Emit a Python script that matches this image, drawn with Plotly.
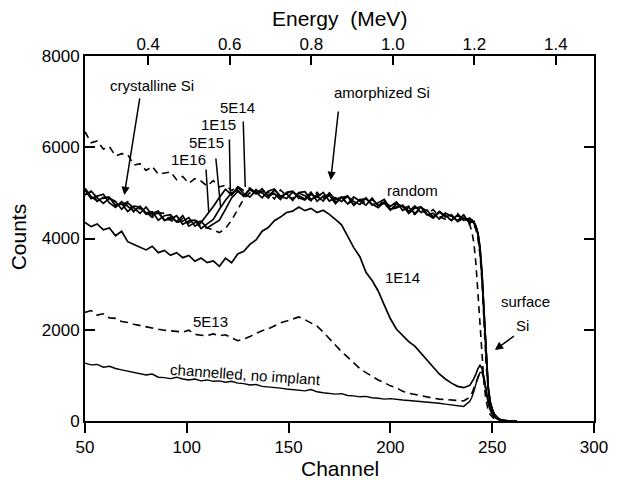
import plotly.graph_objects as go

# Detector channels: coarse spacing through the bulk, single channels across the surface edge
channel = list(range(50, 240, 3)) + list(range(240, 263))

# Energy calibration of the detector (MeV = offset + gain * channel)
energy_offset = -0.0047
energy_gain = 0.004994
energy_ticks = [0.4, 0.6, 0.8, 1.0, 1.2, 1.4]

count_ticks = [0, 2000, 4000, 6000, 8000]
channel_ticks = [50, 100, 150, 200, 250, 300]

random_counts = [
    6340, 6100, 6140, 5960, 6010, 5810, 5860, 5840, 5610, 5640,
    5490, 5580, 5410, 5430, 5460, 5290, 5360, 5210, 5310, 5260,
    5150, 5270, 5130, 5170, 5050, 5140, 5050, 5110, 4980, 5040,
    4945, 5045, 4875, 4985, 5045, 4875, 4945, 4835, 4965, 4890,
    4980, 4805, 4900, 4745, 4880, 4825, 4740, 4865, 4725, 4775,
    4630, 4770, 4655, 4710, 4545, 4640, 4525, 4635, 4485, 4420,
    4510, 4380, 4440, 4300,
    4150, 3900, 3450, 2800, 2050, 1350, 800, 450, 250, 140, 80, 45,
    25, 12, 6, 3, 0, 0, 0, 0, 0, 0, 0,
]

dose_1e16 = [
    5060, 4870, 4930, 4970, 4780, 4680, 4810, 4700, 4600, 4710,
    4560, 4590, 4400, 4500, 4520, 4360, 4380, 4460, 4270, 4350,
    4520, 4700, 4900, 5080, 4950, 5130, 4980, 4910, 5055, 5000,
    4885, 5065, 4925, 4985, 4835, 5005, 5025, 4855, 4925, 4820,
    5000, 4855, 4910, 4755, 4910, 4825, 4730, 4885, 4715, 4775,
    4620, 4770, 4695, 4590, 4715, 4570, 4625, 4455, 4595, 4470,
    4520, 4370, 4460, 4370,
    4400, 4330, 4270, 4080, 3750, 3150, 2250, 1300, 720, 400, 240, 140,
    85, 50, 28, 15, 8, 4, 2, 0, 0, 0, 0,
]

dose_5e15 = [
    4950, 5040, 4890, 4770, 4880, 4810, 4640, 4780, 4670, 4550,
    4690, 4510, 4560, 4410, 4420, 4500, 4310, 4390, 4400, 4220,
    4320, 4420, 4640, 4840, 5000, 5060, 4920, 5070, 4975, 5090,
    4925, 4985, 4855, 5015, 5035, 4895, 4845, 4965, 4905, 5010,
    4820, 4895, 4810, 4925, 4730, 4855, 4870, 4755, 4675, 4805,
    4710, 4800, 4615, 4680, 4545, 4690, 4535, 4445, 4575, 4510,
    4390, 4520, 4400, 4450,
    4360, 4380, 4240, 4120, 3820, 3250, 2350, 1400, 780, 430, 260, 155,
    92, 55, 30, 16, 8, 4, 2, 0, 0, 0, 0,
]

dose_1e15 = [
    5100, 4920, 4820, 4900, 4900, 4720, 4760, 4590, 4710, 4690,
    4530, 4550, 4600, 4390, 4470, 4370, 4500, 4270, 4350, 4380,
    4230, 4310, 4400, 4640, 4890, 5030, 4940, 5090, 5015, 4890,
    5035, 5085, 4925, 4875, 5015, 4935, 4865, 5015, 4815, 4930,
    4950, 4765, 4900, 4925, 4810, 4745, 4890, 4735, 4785, 4855,
    4640, 4670, 4735, 4550, 4665, 4690, 4515, 4555, 4425, 4560,
    4490, 4390, 4520, 4320,
    4410, 4350, 4280, 4110, 3780, 3220, 2300, 1330, 740, 410, 245, 148,
    88, 52, 29, 15, 8, 4, 2, 0, 0, 0, 0,
]

dose_5e14 = [
    4970, 5020, 4810, 4880, 4910, 4730, 4730, 4810, 4580, 4660,
    4580, 4460, 4570, 4550, 4400, 4340, 4440, 4340, 4440, 4260,
    4230, 4190, 4130, 4220, 4400, 4640, 4870, 5000, 5075, 4930,
    5015, 4865, 5065, 4935, 4875, 4995, 4935, 4825, 5015, 4860,
    4940, 4795, 4880, 4935, 4730, 4855, 4770, 4855, 4705, 4845,
    4630, 4700, 4735, 4600, 4525, 4680, 4605, 4475, 4605, 4470,
    4400, 4550, 4380, 4420,
    4340, 4300, 4200, 4000, 3650, 3050, 2150, 1250, 700, 390, 230, 135,
    80, 48, 26, 14, 7, 3, 1, 0, 0, 0, 0,
]

dose_1e14 = [
    4350, 4260, 4320, 4190, 4230, 4060, 4160, 3930, 3870, 3810,
    3750, 3830, 3690, 3740, 3630, 3690, 3580, 3630, 3500, 3570,
    3470, 3510, 3390, 3570, 3470, 3660, 3720, 3870, 3970, 4160,
    4240, 4390, 4470, 4570, 4600, 4690, 4610, 4660, 4570, 4620,
    4530, 4420, 4300, 4050, 3800, 3600, 3260, 3080, 2850, 2540,
    2240, 2010, 1880, 1740, 1640, 1490, 1320, 1180, 1030, 920,
    830, 760, 730, 780,
    850, 930, 1030, 1150, 1220, 1150, 950, 680, 420, 260, 160, 100,
    60, 35, 20, 10, 5, 2, 0, 0, 0, 0, 0,
]

dose_5e13 = [
    2380, 2420, 2320, 2350, 2260, 2250, 2180, 2160, 2120, 2090,
    2070, 2040, 2010, 1990, 1980, 1960, 1950, 1990, 1900, 1880,
    1870, 1910, 1870, 1890, 1820, 1760, 1800, 1850, 1920, 1980,
    2020, 2090, 2150, 2190, 2240, 2280, 2220, 2150, 2080, 1950,
    1800, 1660, 1520, 1400, 1280, 1150, 1060, 980, 900, 840,
    770, 730, 650, 610, 580, 550, 520, 500, 480, 470,
    460, 450, 440, 520,
    600, 720, 850, 980, 1060, 1070, 920, 660, 420, 260, 160, 100,
    60, 35, 20, 10, 5, 2, 0, 0, 0, 0, 0,
]

channelled_virgin = [
    1270, 1230, 1240, 1180, 1200, 1150, 1120, 1090, 1070, 1040,
    1010, 1030, 960, 950, 930, 960, 920, 900, 920, 880,
    900, 870, 880, 850, 870, 830, 820, 790, 800, 760,
    750, 740, 720, 700, 690, 680, 660, 690, 640, 620,
    610, 590, 600, 560, 550, 530, 540, 510, 500, 480,
    490, 470, 460, 450, 440, 430, 420, 400, 390, 370,
    350, 330, 320, 430,
    520, 650, 820, 970, 1060, 1070, 900, 640, 410, 250, 150, 90,
    55, 30, 18, 10, 5, 2, 0, 0, 0, 0, 0,
]

FONT = "Liberation Sans, Arial, sans-serif"
INK = "black"

spectra = [
    ("random", random_counts, 1.6, "7px,5px"),
    ("1E16", dose_1e16, 1.7, "solid"),
    ("5E15", dose_5e15, 1.7, "solid"),
    ("1E15", dose_1e15, 1.7, "solid"),
    ("5E14", dose_5e14, 1.6, "7px,5px"),
    ("1E14", dose_1e14, 1.7, "solid"),
    ("5E13", dose_5e13, 1.6, "8px,5px"),
    ("channelled", channelled_virgin, 1.4, "solid"),
]

fig = go.Figure()
for name, counts, width, dash in spectra:
    fig.add_trace(go.Scatter(
        x=channel, y=counts, mode="lines", name=name,
        line=dict(color=INK, width=width, dash=dash),
        showlegend=False, hoverinfo="skip",
    ))

# Empty trace that carries the energy axis along the top
fig.add_trace(go.Scatter(x=[], y=[], xaxis="x2", showlegend=False))

e_lo = energy_offset + energy_gain * channel_ticks[0]
e_hi = energy_offset + energy_gain * channel_ticks[-1]

fig.update_layout(
    width=620, height=480,
    margin=dict(l=85, r=17, t=56, b=59),
    paper_bgcolor="white", plot_bgcolor="white",
    font=dict(family=FONT, size=16, color=INK),
    xaxis=dict(
        range=[channel_ticks[0], channel_ticks[-1]], tickvals=channel_ticks,
        ticks="outside", ticklen=10, tickwidth=2, tickcolor=INK,
        showline=True, linewidth=2, linecolor=INK, mirror=True,
        showgrid=False, zeroline=False,
        tickfont=dict(size=17),
    ),
    xaxis2=dict(
        overlaying="x", side="top", anchor="y",
        range=[e_lo, e_hi], tickvals=energy_ticks,
        ticktext=[f"{e:.1f}" for e in energy_ticks],
        ticks="inside", ticklen=9, tickwidth=2, tickcolor=INK,
        showline=True, linewidth=2, linecolor=INK,
        showgrid=False, zeroline=False,
        tickfont=dict(size=17), ticklabelstandoff=-3,
    ),
    yaxis=dict(
        range=[count_ticks[0], count_ticks[-1]], tickvals=count_ticks,
        ticks="inside", ticklen=10, tickwidth=2, tickcolor=INK,
        showline=True, linewidth=2, linecolor=INK, mirror="ticks",
        showgrid=False, zeroline=False,
        tickfont=dict(size=17),
    ),
)

label_font = dict(family=FONT, size=15, color=INK)
annotations = []


def text_label(txt, x, y, angle=0):
    annotations.append(dict(
        x=x, y=y, xref="x", yref="y", text=txt, showarrow=False,
        font=label_font, textangle=angle, xanchor="center", yanchor="middle",
    ))


def pointer(x_tail, y_tail, x_head, y_head, head):
    annotations.append(dict(
        x=x_head, y=y_head, xref="x", yref="y",
        ax=x_tail, ay=y_tail, axref="x", ayref="y",
        text="", showarrow=True, arrowhead=head, arrowsize=1.1,
        arrowwidth=1.5, arrowcolor=INK, standoff=0, startstandoff=0,
    ))


text_label("crystalline Si", 82.8, 7343)
pointer(77.0, 7102, 69.3, 4954, 2)

text_label("amorphized Si", 196.0, 7210)
pointer(174.5, 6817, 170.7, 5283, 2)

text_label("5E14", 124.8, 6861)
pointer(127.7, 6598, 128.7, 5129, 0)
text_label("1E15", 115.6, 6488)
pointer(120.9, 6203, 121.4, 4998, 0)
text_label("5E15", 109.8, 6094)
pointer(114.2, 5787, 116.6, 4691, 0)
text_label("1E16", 100.7, 5721)
pointer(109.4, 5546, 110.8, 4559, 0)

text_label("random", 210.7, 5060)
text_label("1E14", 205.9, 3135)
text_label("5E13", 111.8, 2170)
text_label("channelled, no implant", 128.7, 1010, angle=4)

text_label("surface", 266.2, 2609)
text_label("Si", 264.8, 2104)
pointer(261.4, 1885, 251.3, 1556, 2)

# Axis titles
title_font = dict(family=FONT, size=21, color=INK)
annotations += [
    dict(text="Channel", x=0.5, y=-0.1315, xref="paper", yref="paper",
         showarrow=False, font=title_font, xanchor="center", yanchor="middle"),
    dict(text="Energy  (MeV)", x=0.5, y=1.104, xref="paper", yref="paper",
         showarrow=False, font=title_font, xanchor="center", yanchor="middle"),
    dict(text="Counts", x=-0.131, y=0.504, xref="paper", yref="paper",
         showarrow=False, font=title_font, textangle=-90,
         xanchor="center", yanchor="middle"),
]
fig.update_layout(annotations=annotations)

fig.write_html("out.html")
